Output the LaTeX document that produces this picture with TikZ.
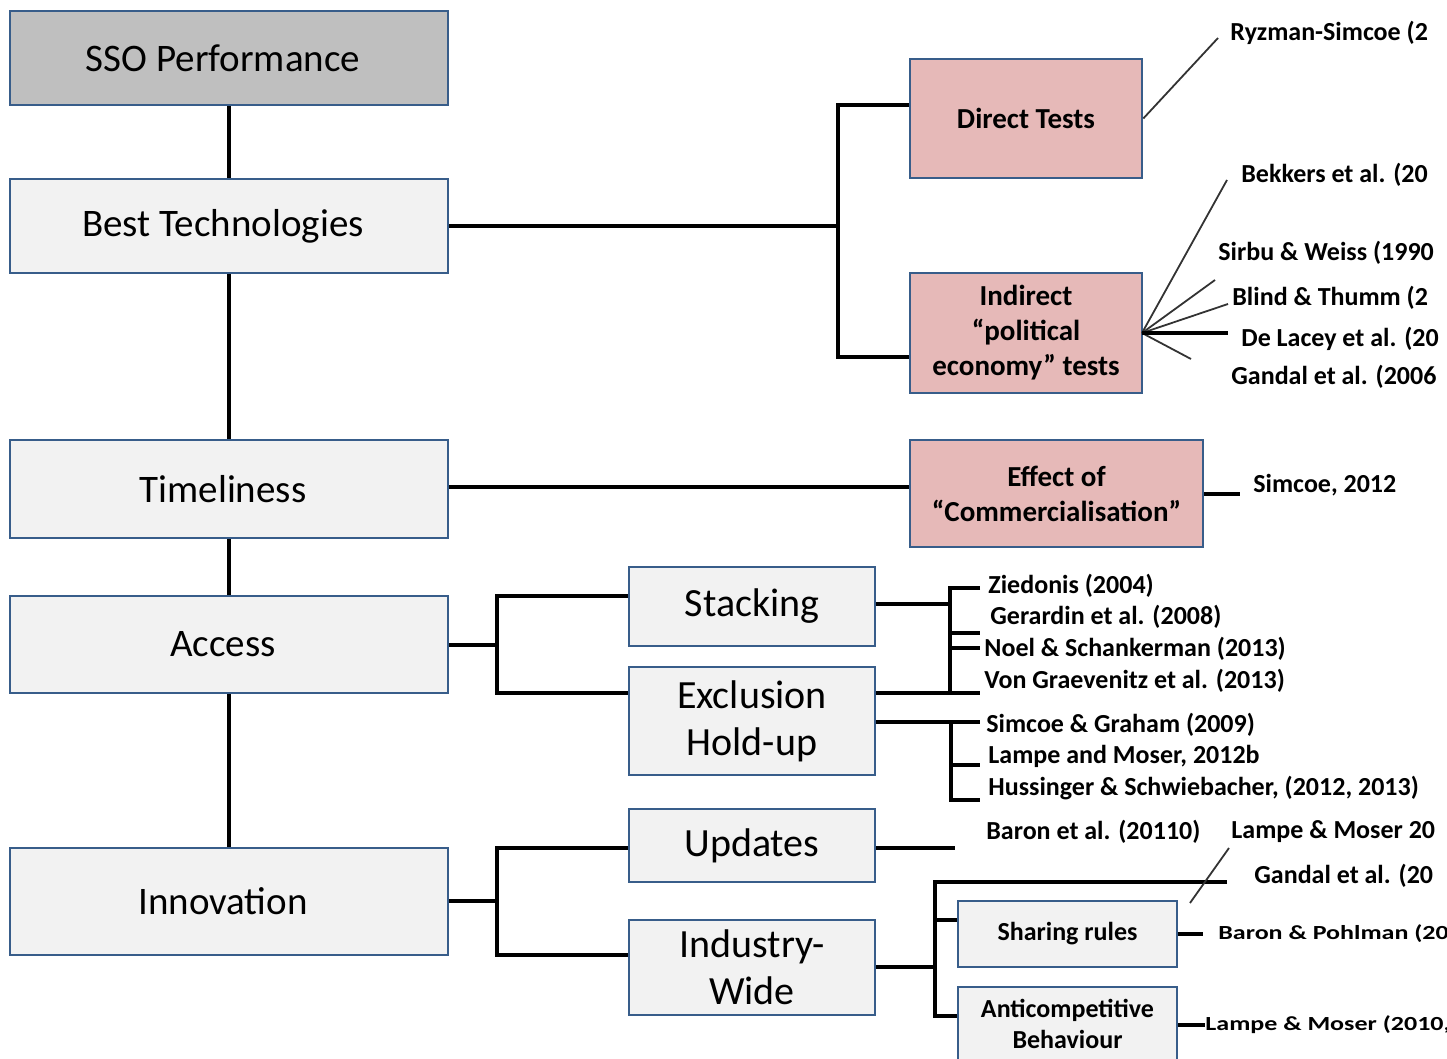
\documentclass[tikz,border=0pt]{standalone}
\usepackage{fontspec}
\usepackage{graphicx}
\setmainfont{Carlito}
\definecolor{boxEdge}{RGB}{56,93,138}
\definecolor{boxGrey}{RGB}{191,191,191}
\definecolor{boxLight}{RGB}{242,242,242}
\definecolor{boxPink}{RGB}{230,185,184}

\tikzset{
  box/.style={draw=boxEdge, line width=1.3pt, fill=boxLight, inner sep=0pt, align=center},
  mainbox/.style={box, minimum width=219pt, font=\fontsize{19.5}{23.5}\selectfont,
    execute at end node={\kern6pt}},
  subbox/.style={box, minimum width=123pt, font=\fontsize{20}{23.5}\selectfont},
  testbox/.style={box, fill=boxPink, font=\bfseries\fontsize{14.5}{17.5}\selectfont},
  rulebox/.style={box, minimum width=109.5pt, font=\bfseries\fontsize{13}{15.5}\selectfont},
  reftext/.style={anchor=west, inner sep=0pt, font=\bfseries\fontsize{13}{15}\selectfont},
  smallref/.style={reftext, font=\bfseries\fontsize{10}{12}\selectfont},
  link/.style={line width=1.6pt, black},
  fan/.style={line width=0.9pt, black!80},
}
\newcommand{\widesmall}[1]{\scalebox{1.3}[1]{#1}}

\begin{document}
\begin{tikzpicture}[x=0.5pt, y=-0.5pt]
  \useasboundingbox (0,0) rectangle (1447,1059);

  % main column
  \node[mainbox, fill=boxGrey, minimum height=47pt] (sso) at (229,58) {SSO Performance};
  \node[mainbox, minimum height=47pt] (best) at (229,226) {Best Technologies};
  \node[mainbox, minimum height=49pt] (timely) at (229,489) {Timeliness};
  \node[mainbox, minimum height=48.5pt] (access) at (229,644.5) {Access};
  \node[mainbox, minimum height=53.5pt] (innov) at (229,901.5) {Innovation};

  \draw[link] (sso) -- (best);
  \draw[link] (best) -- (timely);
  \draw[link] (timely) -- (access);
  \draw[link] (access) -- (innov);

  % tests of the best technology
  \node[testbox, minimum width=116pt, minimum height=59.5pt] (direct) at (1026,118.5) {Direct Tests};
  \node[testbox, minimum width=116pt, minimum height=60pt] (indirect) at (1026,333) {Indirect\\“political\\economy” tests};
  \node[testbox, minimum width=146.5pt, minimum height=53.5pt] (effect) at (1056.5,493.5) {Effect of\\“Commercialisation”};

  \coordinate (jTests) at (838,226);
  \draw[link] (best.east) -- (jTests);
  \draw[link] (direct.west |- 0,105) -| (jTests) |- (indirect.west |- 0,357);
  \draw[link] (timely.east |- 0,487) -- (effect.west |- 0,487);

  % access and innovation branches
  \node[subbox, minimum height=39.5pt] (stacking) at (752,606.5) {Stacking};
  \node[subbox, minimum height=54pt] (exclusion) at (752,721) {Exclusion\\Hold-up};
  \node[subbox, minimum height=36.5pt] (updates) at (752,845.5) {Updates};
  \node[subbox, minimum height=47.5pt] (industry) at (752,967.5) {Industry-\\Wide};

  \coordinate (jAccess) at (497,645);
  \draw[link] (access.east |- jAccess) -- (jAccess);
  \draw[link] (stacking.west |- 0,596) -| (jAccess) |- (exclusion.west |- 0,693);
  \coordinate (jInnov) at (497,901);
  \draw[link] (innov.east |- jInnov) -- (jInnov);
  \draw[link] (updates.west |- 0,848) -| (jInnov) |- (industry.west |- 0,955);

  \node[rulebox, minimum height=33pt] (sharing) at (1067.5,934) {Sharing rules};
  \node[rulebox, minimum height=37pt] (anticomp) at (1067.5,1024) {Anticompetitive\\Behaviour};

  \coordinate (jIndustry) at (935,967);
  \draw[link] (industry.east |- jIndustry) -- (jIndustry);
  \draw[link] (1227,882) -| (935,1016) -- (anticomp.west |- 0,1016);
  \draw[link] (935,920) -- (sharing.west |- 0,920);

  % literature
  \node[reftext] (ryzman) at (1230,33) {Ryzman-Simcoe (2};
  \node[reftext] (bekkers) at (1241,175) {Bekkers et al. (20};
  \node[reftext] (sirbu) at (1218,253) {Sirbu \& Weiss (1990};
  \node[reftext] (blind) at (1232,298) {Blind \& Thumm (2};
  \node[reftext] (delacey) at (1241,339) {De Lacey et al. (20};
  \node[reftext] (gandalA) at (1231,377) {Gandal et al. (2006};
  \node[reftext] (simcoe) at (1253,485) {Simcoe, 2012};
  \node[reftext] (ziedonis) at (988,586) {Ziedonis (2004)};
  \node[reftext] (gerardin) at (990,617) {Gerardin et al. (2008)};
  \node[reftext] (noel) at (984,649) {Noel \& Schankerman (2013)};
  \node[reftext] (graevenitz) at (984,681) {Von Graevenitz et al. (2013)};
  \node[reftext] (graham) at (986,725) {Simcoe \& Graham (2009)};
  \node[reftext] (lampeA) at (988,756) {Lampe and Moser, 2012b};
  \node[reftext] (hussinger) at (988,788) {Hussinger \& Schwiebacher, (2012, 2013)};
  \node[reftext] (baron) at (986,832) {Baron et al. (20110)};
  \node[reftext] (lampeB) at (1231,832) {Lampe \& Moser 20};
  \node[reftext] (gandalB) at (1254,876) {Gandal et al. (20};
  \node[smallref] (pohlman) at (1218,934) {\widesmall{Baron \& Pohlman (20}};
  \node[smallref] (lampeC) at (1205,1025) {\widesmall{Lampe \& Moser (2010,}};

  \coordinate (eRyzman) at (1218,38);
  \draw[fan] (direct.east) -- (eRyzman);
  \coordinate (fanRoot) at (1142,333);
  \foreach \x/\y in {1227/180, 1215/280, 1228/304, 1191/359}
    \draw[fan] (fanRoot) -- (\x,\y);
  \coordinate (eLacey) at (1228,333);
  \draw[link] (fanRoot) -- (eLacey);

  \coordinate (eSimcoe) at (1240,494);
  \draw[link] (effect.east |- eSimcoe) -- (eSimcoe);

  \coordinate (jStack) at (950,604);
  \draw[link] (stacking.east |- jStack) -- (jStack);
  \draw[link] (980,588) -| (950,693);
  \foreach \y in {633,648}
    \draw[link] (950,\y) -- (980,\y);
  \draw[link] (exclusion.east |- 0,693) -- (980,693);
  \draw[link] (exclusion.east |- 0,722) -- (980,722);
  \draw[link] (951,722) |- (980,800);
  \draw[link] (951,765) -- (980,765);

  \coordinate (eUpdates) at (955,848);
  \draw[link] (updates.east |- eUpdates) -- (eUpdates);
  \coordinate (eLampe) at (1229,848);
  \draw[fan] (1190,903) -- (eLampe);
  \coordinate (ePohlman) at (1203,934);
  \draw[link] (sharing.east |- ePohlman) -- (ePohlman);
  \coordinate (eLampeC) at (1205,1025);
  \draw[link] (anticomp.east |- eLampeC) -- (eLampeC);
\end{tikzpicture}
\end{document}
